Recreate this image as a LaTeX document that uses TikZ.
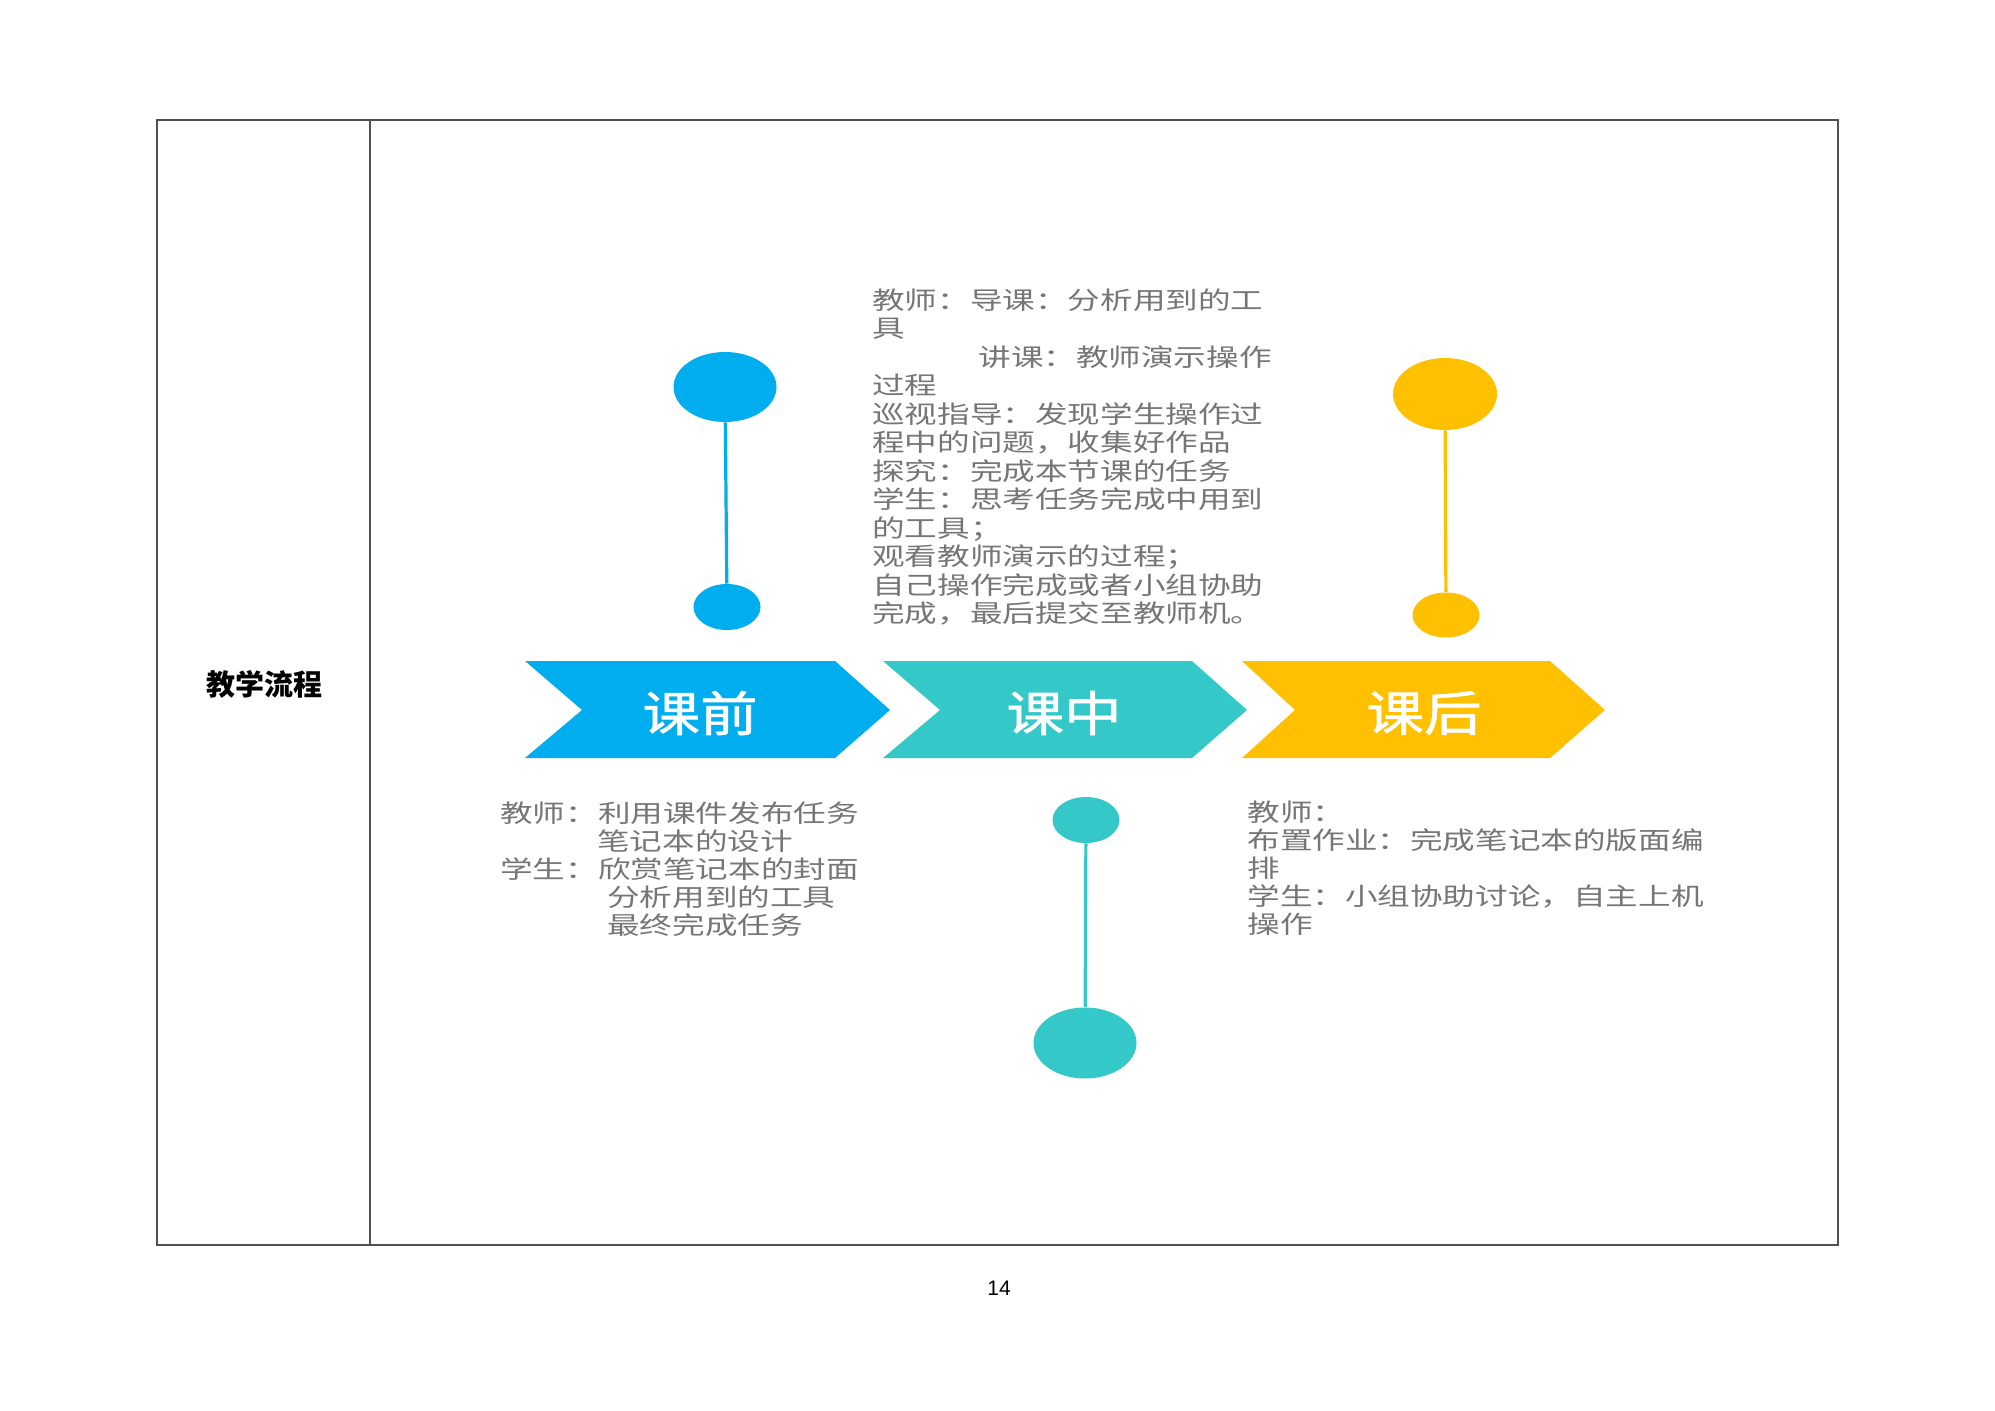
\documentclass[tikz,border=0pt]{standalone}
\usepackage{fontspec}
\usetikzlibrary{shapes.geometric}
\newfontfamily\cjk[FakeStretch=1.33]{Noto Sans CJK SC}
\newfontfamily\cjkhead[FakeStretch=1.2,FakeBold=1.2]{Noto Sans CJK SC}
\newfontfamily\cjkplain{Noto Sans CJK SC}
\newfontfamily\arialf{Liberation Sans}
\definecolor{cblue}{RGB}{0,174,239}
\definecolor{cteal}{RGB}{52,200,200}
\definecolor{corange}{RGB}{255,192,0}
\definecolor{textgray}{RGB}{118,118,118}
\definecolor{frame}{RGB}{80,80,80}
\begin{document}
\begin{tikzpicture}[x=0.5pt,y=-0.5pt,
  tableline/.style={draw=frame,line width=1pt},
  dot/.style={ellipse,inner sep=0pt,draw=none},
  stick/.style={line width=1.6pt},
  chevlabel/.style={text=white,inner sep=0pt,font=\cjkhead\fontsize{24}{28}\selectfont},
  bodytext/.style={text=textgray,inner sep=0pt,align=left,anchor=north west,font=\cjk\fontsize{12.25}{14.25}\selectfont},
  bodytextb/.style={bodytext,font=\cjk\fontsize{12.25}{14}\selectfont}]
\useasboundingbox (0,0) rectangle (1995,1411);
\fill[white] (0,0) rectangle (1995,1411);
% table
\draw[tableline] (157,120) rectangle (1838,1245);
\draw[tableline] (370,120) -- (370,1245);
\node[inner sep=0pt,font=\cjkplain\bfseries\fontsize{14.5}{17}\selectfont] (title) at (264,684) {教学流程};
% chevrons
\fill[cblue] (525,661) -- (835,661) -- (890,710) -- (835,758) -- (525,758) -- (582,710) -- cycle;
\fill[cteal] (883,661) -- (1192,661) -- (1247,710) -- (1192,758) -- (883,758) -- (940,710) -- cycle;
\fill[corange] (1242,661) -- (1550,661) -- (1605,710) -- (1550,758) -- (1242,758) -- (1295,710) -- cycle;
\node[chevlabel] (c1) at (700,713) {课前};
\node[chevlabel] (c2) at (1064,713) {课中};
\node[chevlabel] (c3) at (1424,713) {课后};
% sticks
\node[dot,fill=cblue,minimum width=51.5pt,minimum height=35pt] (b1) at (725,387) {};
\node[dot,fill=cblue,minimum width=33.5pt,minimum height=23pt] (b2) at (727,607) {};
\draw[stick,cblue] (b1) -- (b2);
\node[dot,fill=cteal,minimum width=33.5pt,minimum height=23pt] (t1) at (1086,820) {};
\node[dot,fill=cteal,minimum width=51.5pt,minimum height=35.5pt] (t2) at (1085,1043) {};
\draw[stick,cteal] (t1) -- (t2);
\node[dot,fill=corange,minimum width=52pt,minimum height=36pt] (o1) at (1445,394) {};
\node[dot,fill=corange,minimum width=33.5pt,minimum height=22.5pt] (o2) at (1446,615) {};
\draw[stick,corange] (o1) -- (o2);
% texts
\node[bodytext] (mid) at (872,288) {教师：导课：分析用到的工\\
具\\
\hspace*{53pt}讲课：教师演示操作\\
过程\\
巡视指导：发现学生操作过\\
程中的问题，收集好作品\\
探究：完成本节课的任务\\
学生：思考任务完成中用到\\
的工具；\\
观看教师演示的过程；\\
自己操作完成或者小组协助\\
完成，最后提交至教师机。};
\node[bodytextb] (left) at (500,801) {教师：利用课件发布任务\\
\hspace*{48.5pt}笔记本的设计\\
学生：欣赏笔记本的封面\\
\hspace*{53.5pt}分析用到的工具\\
\hspace*{53.5pt}最终完成任务};
\node[bodytextb] (right) at (1247,801) {教师：\\
布置作业：完成笔记本的版面编\\
排\\
学生：小组协助讨论，自主上机\\
操作};
\node[inner sep=0pt,font=\arialf\fontsize{10.5}{12}\selectfont] (page) at (999,1288) {14};
\end{tikzpicture}
\end{document}
